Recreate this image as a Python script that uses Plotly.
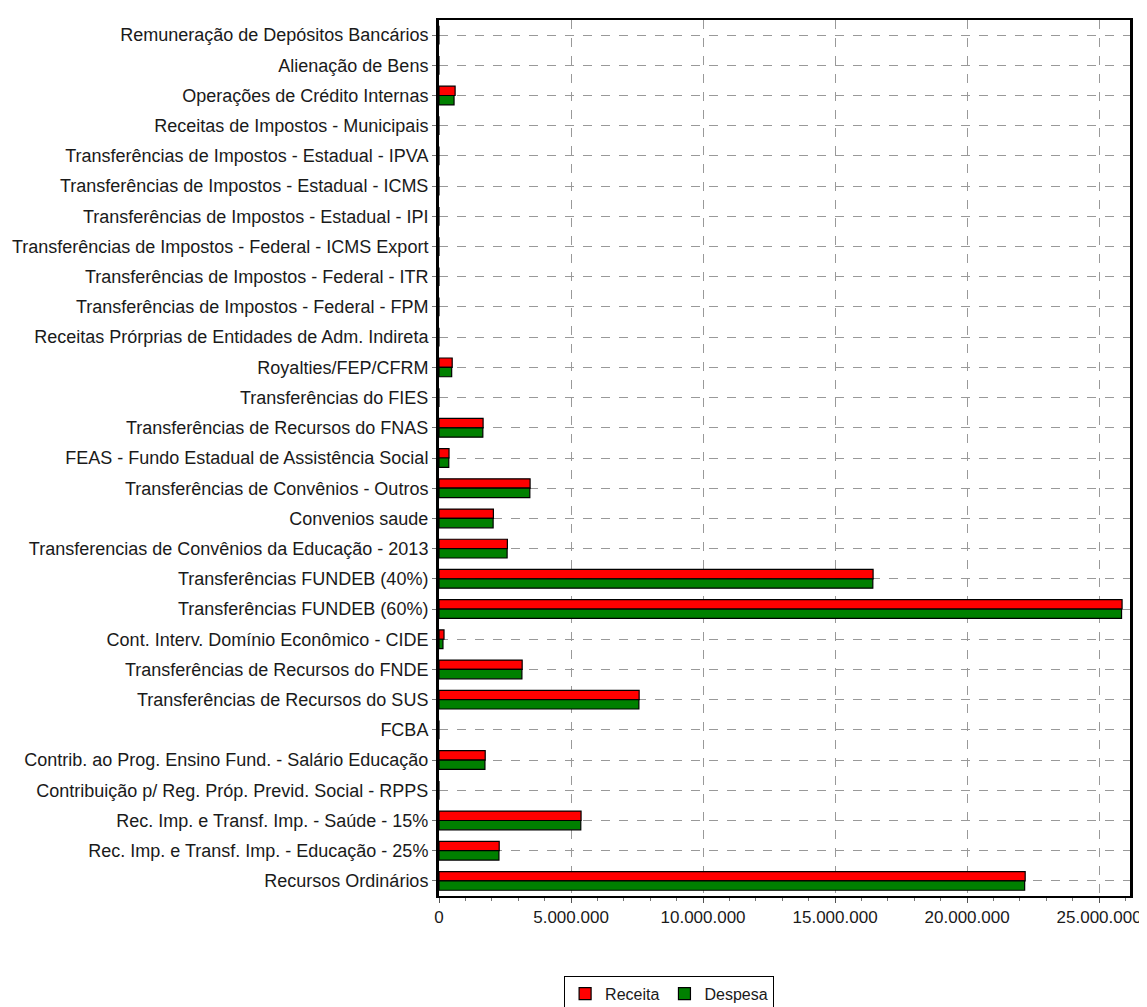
import plotly.graph_objects as go

categories = [
    "Remuneração de Depósitos Bancários",
    "Alienação de Bens",
    "Operações de Crédito Internas",
    "Receitas de Impostos - Municipais",
    "Transferências de Impostos - Estadual - IPVA",
    "Transferências de Impostos - Estadual - ICMS",
    "Transferências de Impostos - Estadual - IPI",
    "Transferências de Impostos - Federal - ICMS Export",
    "Transferências de Impostos - Federal - ITR",
    "Transferências de Impostos - Federal - FPM",
    "Receitas Prórprias de Entidades de Adm. Indireta",
    "Royalties/FEP/CFRM",
    "Transferências do FIES",
    "Transferências de Recursos do FNAS",
    "FEAS - Fundo Estadual de Assistência Social",
    "Transferências de Convênios - Outros",
    "Convenios saude",
    "Transferencias de Convênios da Educação - 2013",
    "Transferências FUNDEB (40%)",
    "Transferências FUNDEB (60%)",
    "Cont. Interv. Domínio Econômico - CIDE",
    "Transferências de Recursos do FNDE",
    "Transferências de Recursos do SUS",
    "FCBA",
    "Contrib. ao Prog. Ensino Fund. - Salário Educação",
    "Contribuição p/ Reg. Próp. Previd. Social - RPPS",
    "Rec. Imp. e Transf. Imp. - Saúde - 15%",
    "Rec. Imp. e Transf. Imp. - Educação - 25%",
    "Recursos Ordinários",
]

receita = [
    0, 0, 610000, 0, 0, 0, 0, 0, 0, 0, 0, 500000, 0, 1670000, 380000,
    3450000, 2060000, 2590000, 16440000, 25870000, 190000, 3150000,
    7580000, 0, 1750000, 0, 5380000, 2280000, 22200000,
]

despesa = [
    0, 0, 570000, 0, 0, 0, 0, 0, 0, 0, 0, 480000, 0, 1660000, 370000,
    3440000, 2050000, 2580000, 16430000, 25850000, 150000, 3140000,
    7570000, 0, 1740000, 0, 5370000, 2270000, 22180000,
]

x_ticks = [0, 5e6, 10e6, 15e6, 20e6, 25e6]

series_names = ["Receita", "Despesa"]
series_colors = ["#FF0000", "#008000"]

fig = go.Figure()
for name, vals, col in zip(series_names, [receita, despesa], series_colors):
    fig.add_trace(go.Bar(
        y=categories, x=vals, name=name, orientation="h",
        marker=dict(color=col, line=dict(color="black", width=1.2)),
    ))

# page body has an 8px default margin, so the figure is 8px smaller
fig.update_layout(
    barmode="group",
    bargap=0.38,
    bargroupgap=0.0,
    width=1139, height=999,
    margin=dict(l=431, r=17, t=12, b=111, autoexpand=False),
    paper_bgcolor="white",
    plot_bgcolor="white",
    separators=",.",
    font=dict(family="Liberation Sans, Arial, sans-serif", size=18, color="#1a1a1a"),
    showlegend=True,
    legend=dict(
        orientation="h", x=0.333, xanchor="center", y=-0.091, yanchor="top",
        bordercolor="black", borderwidth=1, bgcolor="white",
        font=dict(size=16), traceorder="normal",
    ),
)

fig.update_xaxes(
    range=[0, 26.17e6],
    tickvals=x_ticks,
    tickformat=",d",
    showgrid=True, gridcolor="#999999", griddash="dash", gridwidth=1,
    showline=True, linecolor="black", linewidth=2, mirror=True,
    ticks="outside", ticklen=5, tickcolor="#555555",
    minor=dict(dtick=1e6, ticks="outside", ticklen=3, tickcolor="#777777", showgrid=False),
    zeroline=False,
    automargin=False,
    tickfont=dict(size=17),
)
fig.update_yaxes(
    autorange="reversed",
    showgrid=True, gridcolor="#999999", griddash="dash", gridwidth=1,
    showline=True, linecolor="black", linewidth=3, mirror=True,
    ticks="outside", ticklen=4, tickcolor="#777777",
    automargin=False,
    tickfont=dict(size=18),
)

fig.write_html("out.html")
